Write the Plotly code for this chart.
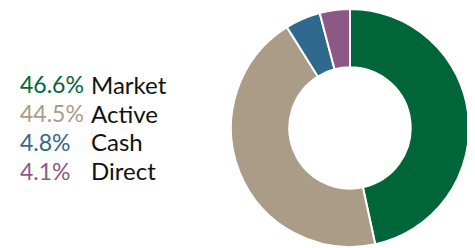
import plotly.graph_objects as go

categories = ["Market", "Active", "Cash", "Direct"]
values = [46.6, 44.5, 4.8, 4.1]
pct_labels = ["46.6%", "44.5%", "4.8%", "4.1%"]
colors = ["#00663A", "#AA9C87", "#30698E", "#8D5886"]

# page has an 8px body margin; work in figure coords = page - 8
OFF = 8
W, H = 467, 240

fig = go.Figure()
fig.add_trace(go.Pie(
    labels=categories,
    values=values,
    hole=0.51,
    sort=False,
    direction="clockwise",
    rotation=0,
    marker=dict(colors=colors, line=dict(color="white", width=2)),
    textinfo="none",
    hoverinfo="label+percent",
    showlegend=False,
    domain=dict(x=[(231 - OFF) / W, (469 - OFF) / W],
                y=[(H - (247 - OFF)) / H, (H - (9 - OFF)) / H]),
))

row_y = [84, 113, 141.5, 170.5]  # page pixel centers from top
for i, (p, c) in enumerate(zip(pct_labels, categories)):
    yp = 1 - (row_y[i] - OFF) / H
    fig.add_annotation(x=(18 - OFF) / W, y=yp, xref="paper", yref="paper",
                       text=p, showarrow=False, xanchor="left", yanchor="middle",
                       font=dict(family="Lato", size=23, color=colors[i]))
    fig.add_annotation(x=(89 - OFF) / W, y=yp, xref="paper", yref="paper",
                       text=c, showarrow=False, xanchor="left", yanchor="middle",
                       font=dict(family="Lato", size=24, color="#111111"))

fig.update_layout(
    width=W, height=H,
    margin=dict(l=0, r=0, t=0, b=0),
    paper_bgcolor="white", plot_bgcolor="white",
)

fig.write_html("out.html")
